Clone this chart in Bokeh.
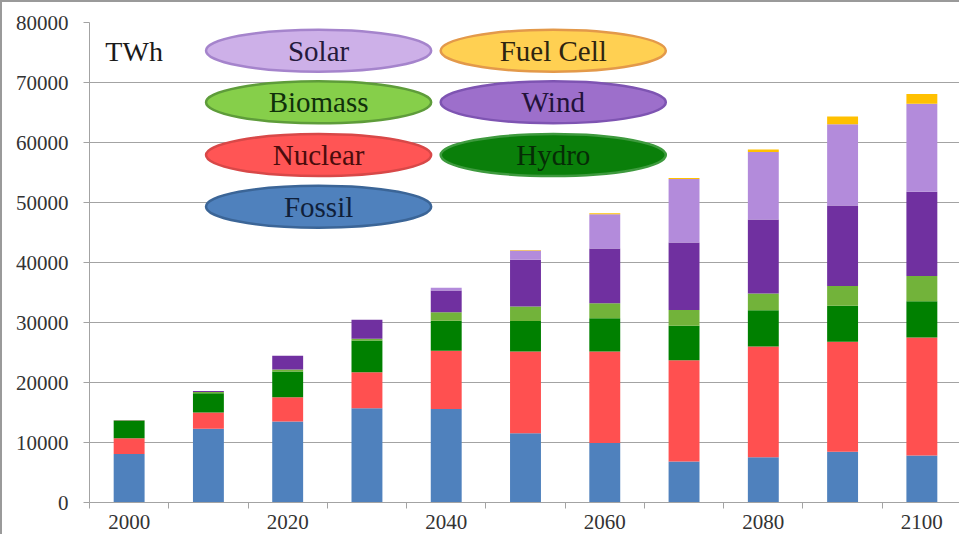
from bokeh.plotting import figure
from bokeh.models import ColumnDataSource, Range1d, FixedTicker, NumeralTickFormatter, Label
from bokeh.core.properties import value
from bokeh.embed import file_html
from bokeh.resources import INLINE

# ---------------- data ----------------
years = [2000, 2010, 2020, 2030, 2040, 2050, 2060, 2070, 2080, 2090, 2100]
fossil = [8100, 12300, 13500, 15700, 15600, 11550, 9900, 6850, 7550, 8450, 7850]
nuclear = [2600, 2700, 4050, 6000, 9700, 13600, 15250, 16850, 18450, 18350, 19650]
hydro = [2900, 3200, 4300, 5300, 5000, 5100, 5550, 5750, 6050, 6000, 6050]
biomass = [100, 200, 300, 300, 1400, 2400, 2500, 2650, 2800, 3300, 4200]
wind = [50, 200, 2300, 3150, 3650, 7800, 9150, 11250, 12300, 13400, 14050]
solar = [0, 0, 0, 0, 450, 1550, 5700, 10550, 11250, 13550, 14650]
fuel_cell = [0, 0, 0, 0, 0, 100, 150, 200, 450, 1300, 1650]

series_names = ["Fossil", "Nuclear", "Hydro", "Biomass", "Wind", "Solar", "Fuel Cell"]
y_ticks = [0, 10000, 20000, 30000, 40000, 50000, 60000, 70000, 80000]
x_label_ticks = [2000, 2020, 2040, 2060, 2080, 2100]
unit_label = "TWh"

# ---------------- styles ----------------
bar_colors = ["#4F81BD", "#FF5050", "#008000", "#72B33A", "#7030A0", "#B38BDB", "#FFC000"]
font = "Liberation Serif"
grid_color = "#A3A3A3"

source = ColumnDataSource(dict(year=years, Fossil=fossil, Nuclear=nuclear, Hydro=hydro,
                               Biomass=biomass, Wind=wind, Solar=solar))
source.data["Fuel Cell"] = fuel_cell

p = figure(width=959, height=534, output_backend="svg", toolbar_location=None,
           x_range=Range1d(1995, 2105), y_range=Range1d(0, 80000),
           min_border_left=87, min_border_right=0, min_border_top=20, min_border_bottom=34)
p.styles = {"border-left": "2px solid #9a9a9a", "border-top": "2px solid #9a9a9a"}
p.outline_line_color = None
p.background_fill_color = "white"
p.border_fill_color = "white"

p.vbar_stack(series_names, x="year", width=3.9, source=source,
             fill_color=bar_colors, line_color=None)

# axes
p.yaxis.ticker = FixedTicker(ticks=y_ticks)
p.yaxis.formatter = NumeralTickFormatter(format="0")
p.yaxis.major_label_text_font = font
p.yaxis.major_label_text_font_size = "21px"
p.yaxis.major_label_text_color = "#333333"
p.yaxis.major_label_standoff = 15
p.yaxis.major_tick_out = 6
p.yaxis.major_tick_in = 0
p.yaxis.minor_tick_out = 0
p.yaxis.minor_tick_in = 0
p.yaxis.axis_line_color = grid_color
p.yaxis.major_tick_line_color = grid_color

minor = [y - 5 for y in years] + [years[-1] + 5]
p.xaxis.ticker = FixedTicker(ticks=x_label_ticks, minor_ticks=minor)
p.xaxis.formatter = NumeralTickFormatter(format="0")
p.xaxis.major_label_text_font = font
p.xaxis.major_label_text_font_size = "21px"
p.xaxis.major_label_text_color = "#333333"
p.xaxis.major_label_standoff = 6
p.xaxis.major_tick_out = 0
p.xaxis.major_tick_in = 0
p.xaxis.minor_tick_out = 6
p.xaxis.minor_tick_in = 0
p.xaxis.axis_line_color = grid_color
p.xaxis.minor_tick_line_color = grid_color

p.xgrid.grid_line_color = None
p.ygrid.ticker = FixedTicker(ticks=y_ticks)
p.ygrid.grid_line_color = grid_color
p.ygrid.grid_line_width = 1

# unit label
p.add_layout(Label(x=1997.0, y=75200, text=unit_label, text_font=font,
                   text_font_size="28px", text_color="#1a1a1a",
                   text_baseline="alphabetic"))

# oval legend (layout positions in data units)
legend_x = [2023.9, 2053.5, 2023.9, 2053.5, 2023.9, 2053.5, 2023.9]
legend_y = [75300, 75300, 66700, 66700, 57900, 57900, 49300]
legend_order = ["Solar", "Fuel Cell", "Biomass", "Wind", "Nuclear", "Hydro", "Fossil"]
oval_fill = {"Solar": "#CDB0E8", "Fuel Cell": "#FFD052", "Biomass": "#86CF4A", "Wind": "#9D6FCB",
             "Nuclear": "#FF5555", "Hydro": "#0A7F0A", "Fossil": "#4F81BD"}
oval_line = {"Solar": "#A584CC", "Fuel Cell": "#E3994A", "Biomass": "#5E9C3A", "Wind": "#7E54B2",
             "Nuclear": "#D84848", "Hydro": "#3E9A3E", "Fossil": "#3B6597"}
oval_text = {"Solar": "#241a3c", "Fuel Cell": "#2e2410", "Biomass": "#10300a", "Wind": "#22123a",
             "Nuclear": "#4a0c0c", "Hydro": "#062c06", "Fossil": "#0f1f3a"}
lsrc = ColumnDataSource(dict(x=legend_x, y=legend_y, label=legend_order,
                             fill=[oval_fill[k] for k in legend_order],
                             line=[oval_line[k] for k in legend_order],
                             tcol=[oval_text[k] for k in legend_order]))
p.ellipse(x="x", y="y", width=28.4, height=7000, source=lsrc,
          fill_color="fill", line_color="line", line_width=2.5)
p.text(x="x", y="y", text="label", source=lsrc, text_font=value(font),
       text_font_size=value("29px"), text_align="center", text_baseline="middle",
       text_color="tcol")

open("out.html", "w").write(file_html(p, INLINE))
